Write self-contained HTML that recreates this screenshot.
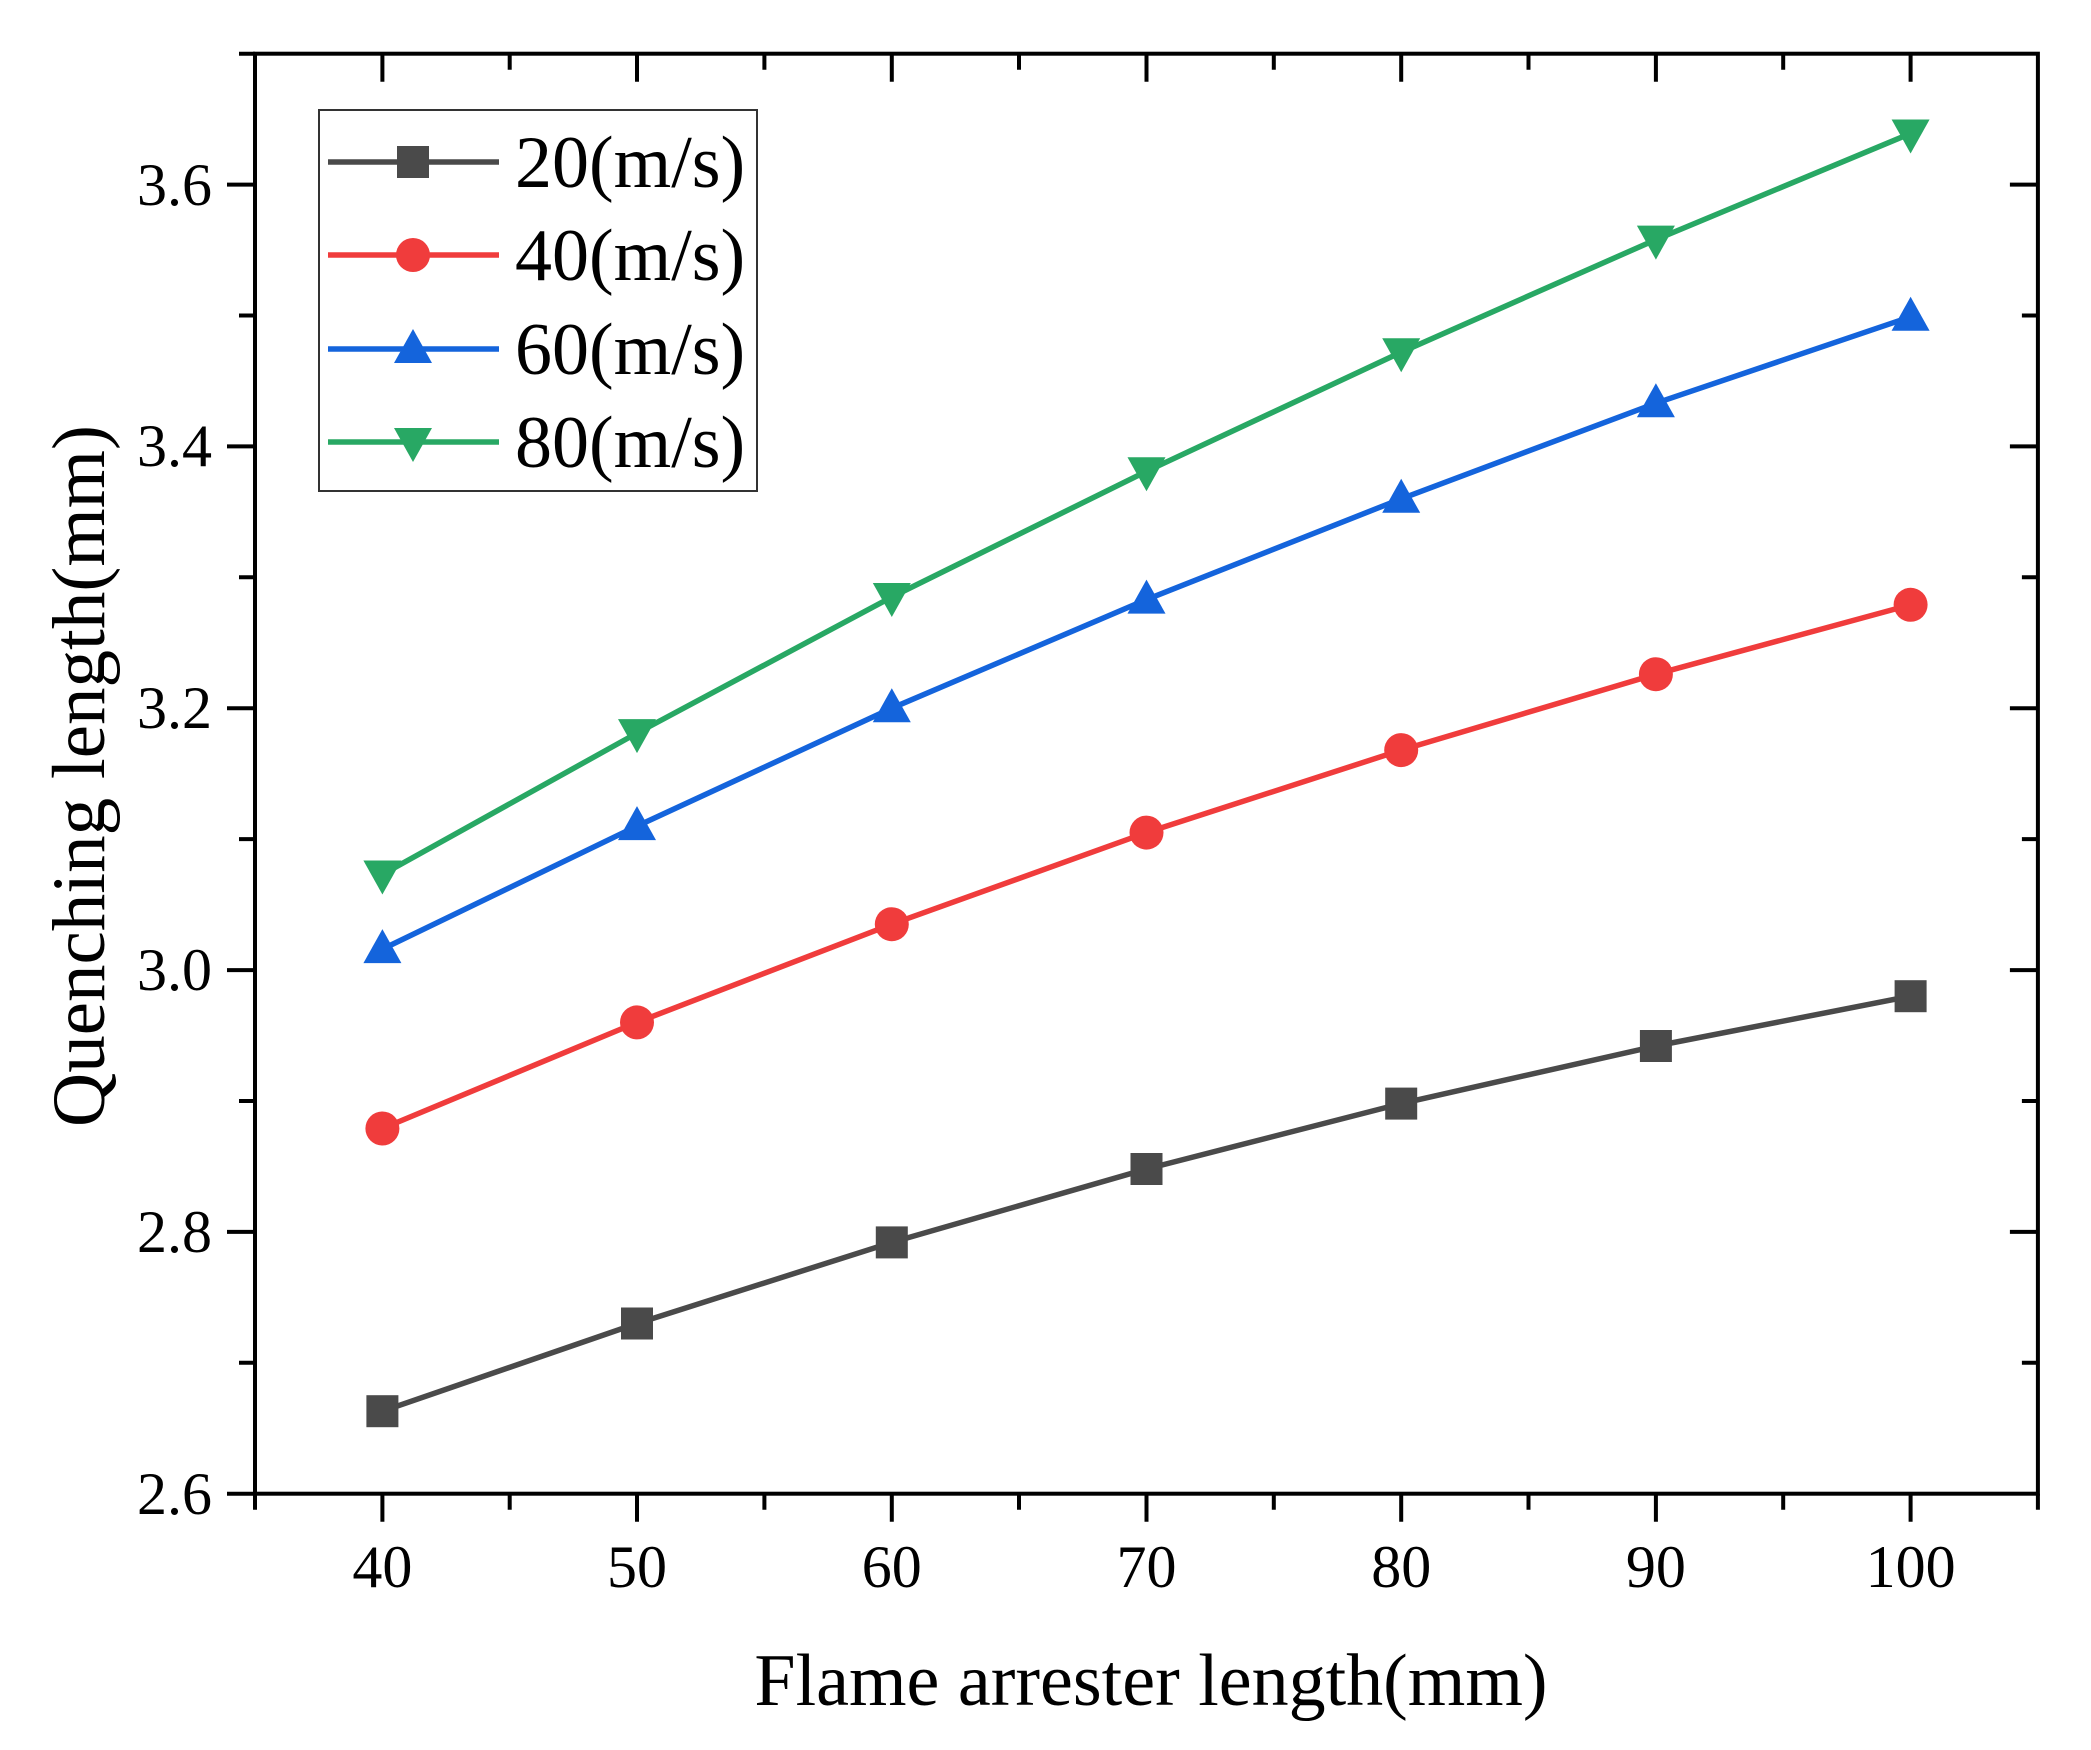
<!DOCTYPE html>
<html><head><meta charset="utf-8"><style>
html,body{margin:0;padding:0;background:#fff;}
svg{display:block;}
text{font-family:"Liberation Serif",serif;fill:#000;}
</style></head><body>
<svg width="2091" height="1750" viewBox="0 0 2091 1750" xmlns="http://www.w3.org/2000/svg">
<defs>
<rect id="sq" x="-16" y="-16" width="32" height="32" fill="#4a4a4a"/>
<circle id="ci" r="17" fill="#f03c3c"/>
<polygon id="tu" points="0,-20 -19,14 19,14" fill="#1464dc"/>
<polygon id="td" points="-19,-14 19,-14 0,20" fill="#28a864"/>
</defs>
<rect x="255" y="53.7" width="1782.9" height="1440" fill="none" stroke="#000" stroke-width="4"/>
<g stroke="#000" stroke-width="4">
<path d="M382.4 1493.7v28M637 1493.7v28M891.8 1493.7v28M1146.5 1493.7v28M1401.2 1493.7v28M1655.9 1493.7v28M1910.6 1493.7v28"/>
<path d="M255 1493.7v16M509.7 1493.7v16M764.4 1493.7v16M1019 1493.7v16M1273.8 1493.7v16M1528.5 1493.7v16M1783.2 1493.7v16M2037.9 1493.7v16"/>
<path d="M382.4 53.7v28M637 53.7v28M891.8 53.7v28M1146.5 53.7v28M1401.2 53.7v28M1655.9 53.7v28M1910.6 53.7v28"/>
<path d="M509.7 53.7v16M764.4 53.7v16M1019 53.7v16M1273.8 53.7v16M1528.5 53.7v16M1783.2 53.7v16"/>
<path d="M255 1493.7h-28M255 1231.9h-28M255 970.1h-28M255 708.2h-28M255 446.4h-28M255 184.6h-28"/>
<path d="M255 1362.8h-16M255 1101h-16M255 839.1h-16M255 577.3h-16M255 315.5h-16M255 53.7h-16"/>
<path d="M2037.9 1231.9h-28M2037.9 970.1h-28M2037.9 708.2h-28M2037.9 446.4h-28M2037.9 184.6h-28"/>
<path d="M2037.9 1362.8h-16M2037.9 1101h-16M2037.9 839.1h-16M2037.9 577.3h-16M2037.9 315.5h-16"/>
</g>
<g font-size="60" text-anchor="middle">
<text x="382.4" y="1587">40</text><text x="637" y="1587">50</text><text x="891.8" y="1587">60</text>
<text x="1146.5" y="1587">70</text><text x="1401.2" y="1587">80</text><text x="1655.9" y="1587">90</text><text x="1910.6" y="1587">100</text>
</g>
<g font-size="60" text-anchor="end">
<text x="212" y="1514">2.6</text><text x="212" y="1252">2.8</text><text x="212" y="990">3.0</text>
<text x="212" y="728">3.2</text><text x="212" y="466">3.4</text><text x="212" y="205">3.6</text>
</g>
<text x="1151" y="1705" font-size="74" text-anchor="middle">Flame arrester length(mm)</text>
<text transform="translate(104,776) rotate(-90)" font-size="75" text-anchor="middle">Quenching length(mm)</text>
<g fill="none" stroke-width="5.5">
<polyline stroke="#4a4a4a" points="382.4,1411.2 637,1323.5 891.8,1242.4 1146.5,1169 1401.2,1103.6 1655.9,1046 1910.6,996.2"/>
<polyline stroke="#f03c3c" points="382.4,1128.5 637,1022.4 891.8,924.2 1146.5,832.6 1401.2,750.1 1655.9,674.2 1910.6,604.8"/>
<polyline stroke="#1464dc" points="382.4,949.1 637,826.1 891.8,708.2 1146.5,599.6 1401.2,498.8 1655.9,403.2 1910.6,316.8"/>
<polyline stroke="#28a864" points="382.4,874.5 637,733.1 891.8,597 1146.5,471.3 1401.2,352.2 1655.9,239.6 1910.6,133.5"/>
</g>
<use href="#sq" x="382.4" y="1411.2"/><use href="#sq" x="637" y="1323.5"/><use href="#sq" x="891.8" y="1242.4"/><use href="#sq" x="1146.5" y="1169"/><use href="#sq" x="1401.2" y="1103.6"/><use href="#sq" x="1655.9" y="1046"/><use href="#sq" x="1910.6" y="996.2"/>
<use href="#ci" x="382.4" y="1128.5"/><use href="#ci" x="637" y="1022.4"/><use href="#ci" x="891.8" y="924.2"/><use href="#ci" x="1146.5" y="832.6"/><use href="#ci" x="1401.2" y="750.1"/><use href="#ci" x="1655.9" y="674.2"/><use href="#ci" x="1910.6" y="604.8"/>
<use href="#tu" x="382.4" y="949.1"/><use href="#tu" x="637" y="826.1"/><use href="#tu" x="891.8" y="708.2"/><use href="#tu" x="1146.5" y="599.6"/><use href="#tu" x="1401.2" y="498.8"/><use href="#tu" x="1655.9" y="403.2"/><use href="#tu" x="1910.6" y="316.8"/>
<use href="#td" x="382.4" y="874.5"/><use href="#td" x="637" y="733.1"/><use href="#td" x="891.8" y="597"/><use href="#td" x="1146.5" y="471.3"/><use href="#td" x="1401.2" y="352.2"/><use href="#td" x="1655.9" y="239.6"/><use href="#td" x="1910.6" y="133.5"/>
<rect x="319" y="110" width="438" height="381" fill="#fff" stroke="#333" stroke-width="2"/>
<g stroke-width="5.5">
<line x1="328" y1="162" x2="499" y2="162" stroke="#4a4a4a"/>
<line x1="328" y1="255" x2="499" y2="255" stroke="#f03c3c"/>
<line x1="328" y1="349" x2="499" y2="349" stroke="#1464dc"/>
<line x1="328" y1="442" x2="499" y2="442" stroke="#28a864"/>
</g>
<use href="#sq" x="413" y="162"/><use href="#ci" x="413" y="255"/><use href="#tu" x="413" y="349"/><use href="#td" x="413" y="442"/>
<g font-size="74">
<text x="515" y="187">20(m/s)</text><text x="515" y="280">40(m/s)</text>
<text x="515" y="374">60(m/s)</text><text x="515" y="467">80(m/s)</text>
</g>
</svg>
</body></html>
